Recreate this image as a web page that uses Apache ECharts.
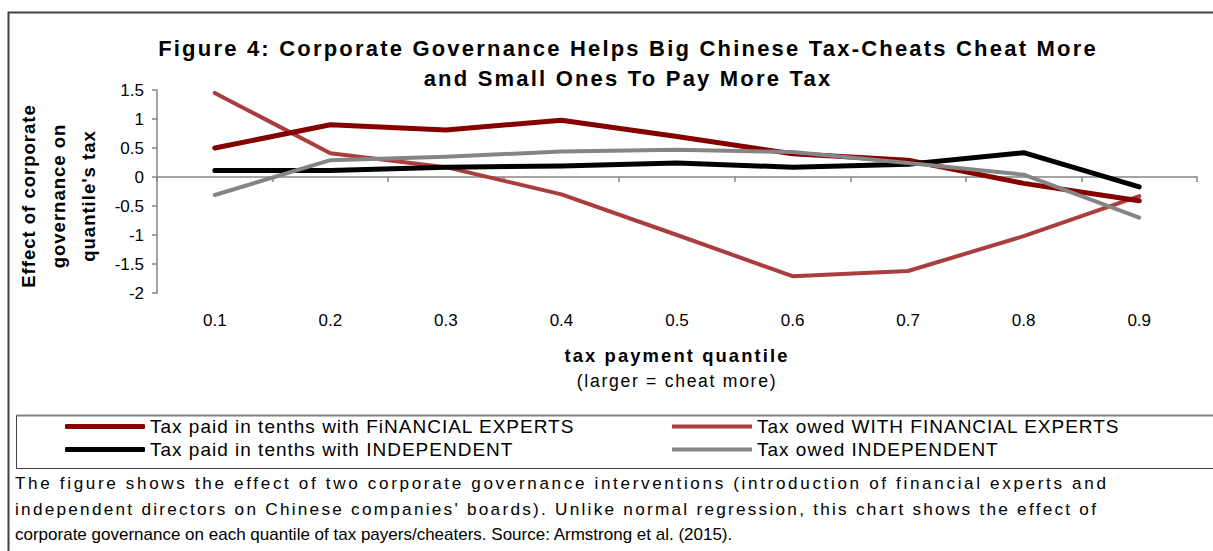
<!DOCTYPE html>
<html>
<head>
<meta charset="utf-8">
<script src="https://cdn.jsdelivr.net/npm/echarts@6/dist/echarts.min.js"></script>
<style>
html,body{margin:0;padding:0;background:#fff;}
#chart{width:1213px;height:551px;}
/* Spread the glyphs like the reference's wide text setting */
#chart text[style*="22px"]{letter-spacing:2.2px;}
#chart text[style*="19px"]{letter-spacing:1.0px;}
#chart text[style*="17.1px"]{letter-spacing:2.65px;}
#chart text[style*="17.2px"]{letter-spacing:2.25px;}
#chart text[style*="18.5px"]{letter-spacing:1.0px;}
#chart text[style*="18.4px"]{letter-spacing:2.1px;}
#chart text[style*="17.6px"]{letter-spacing:1.7px;}
</style>
</head>
<body>
<div id="chart"></div>
<script>
var categories = ['0.1','0.2','0.3','0.4','0.5','0.6','0.7','0.8','0.9'];
var paidFinancial = [0.50, 0.90, 0.81, 0.98, 0.70, 0.40, 0.29, -0.11, -0.41];
var owedFinancial = [1.45, 0.41, 0.17, -0.30, -1.00, -1.71, -1.62, -1.02, -0.33];
var paidIndependent = [0.11, 0.11, 0.17, 0.19, 0.24, 0.17, 0.22, 0.42, -0.17];
var owedIndependent = [-0.31, 0.29, 0.35, 0.44, 0.47, 0.43, 0.24, 0.04, -0.70];
var seriesNames = [
  'Tax paid in tenths with FiNANCIAL EXPERTS',
  'Tax owed WITH FINANCIAL EXPERTS',
  'Tax paid in tenths with INDEPENDENT',
  'Tax owed INDEPENDENT'
];
var titleText = 'Figure 4: Corporate Governance Helps Big Chinese Tax-Cheats Cheat More\nand Small Ones To Pay More Tax';
var yTitle = "Effect of corporate\ngovernance on\nquantile's tax";
var xTitle = 'tax payment quantile';
var xSubtitle = '(larger = cheat more)';
var footnoteLines = [
  'The figure shows the effect of two corporate governance interventions (introduction of financial experts and',
  "independent directors on Chinese companies' boards). Unlike normal regression, this chart shows the effect of",
  'corporate governance on each quantile of tax payers/cheaters. Source: Armstrong et al. (2015).'
];

var FONT = '"Liberation Sans", Arial, sans-serif';
var chart = echarts.init(document.getElementById('chart'), null, {renderer: 'svg'});

var legendText = {fontFamily: FONT, fontSize: 19, color: '#000', lineHeight: 19};
var footSizes = ['17.1px ', '17.2px ', '17px '];

var graphics = [
  {type: 'rect', shape: {x: 8.5, y: 12.5, width: 1300, height: 700}, style: {fill: 'none', stroke: '#404040', lineWidth: 2}, silent: true},
  {type: 'rect', shape: {x: 16.5, y: 415.5, width: 1300, height: 53}, style: {fill: 'none', stroke: '#404040', lineWidth: 1}, silent: true},
  {type: 'line', shape: {x1: 16.5, y1: 415.5, x2: 1213, y2: 415.5}, style: {stroke: '#808080', lineWidth: 2}, silent: true},
  {type: 'text', x: 58, y: 196, rotation: Math.PI / 2,
   style: {text: yTitle, align: 'center', verticalAlign: 'middle', font: 'bold 18.5px ' + FONT, lineHeight: 30, fill: '#000'}},
  {type: 'text', x: 677, y: 355,
   style: {text: xTitle, align: 'center', verticalAlign: 'middle', font: 'bold 18.4px ' + FONT, fill: '#000'}},
  {type: 'text', x: 677, y: 381,
   style: {text: xSubtitle, align: 'center', verticalAlign: 'middle', font: '17.6px ' + FONT, fill: '#000'}}
];
footnoteLines.forEach(function (line, i) {
  graphics.push({type: 'text', x: 15, y: 483 + i * 25.5,
    style: {text: line, align: 'left', verticalAlign: 'middle', font: footSizes[i] + FONT, fill: '#000'}});
});

chart.setOption({
  animation: false,
  backgroundColor: '#fff',
  title: {
    text: titleText,
    left: 623,
    top: 28,
    textAlign: 'center',
    textStyle: {fontFamily: FONT, fontSize: 22, fontWeight: 'bold', color: '#000', lineHeight: 30}
  },
  grid: {left: 157, right: 16, top: 90, bottom: 258, containLabel: false},
  legend: [
    {
      data: [{name: seriesNames[0], icon: 'roundRect'}, {name: seriesNames[2], icon: 'roundRect'}],
      orient: 'vertical', left: 65, top: 417,
      itemWidth: 80, itemHeight: 5, itemGap: 4,
      textStyle: legendText, padding: 0
    },
    {
      data: [{name: seriesNames[1], icon: 'rect'}, {name: seriesNames[3], icon: 'rect'}],
      orient: 'vertical', left: 672, top: 417,
      itemWidth: 80, itemHeight: 4, itemGap: 4,
      textStyle: legendText, padding: 0
    }
  ],
  xAxis: [
    {
      type: 'category', data: categories, position: 'bottom',
      boundaryGap: true,
      axisLine: {show: false, onZero: false},
      axisTick: {show: false},
      axisLabel: {margin: 19, fontFamily: FONT, fontSize: 17, color: '#000'},
      splitLine: {show: false}
    },
    {
      type: 'category', data: categories, position: 'bottom',
      boundaryGap: true,
      axisLine: {show: true, onZero: true, lineStyle: {color: '#868686', width: 1.5}},
      axisTick: {show: true, length: 5, lineStyle: {color: '#868686', width: 1.5}},
      axisLabel: {show: false},
      splitLine: {show: false}
    }
  ],
  yAxis: {
    type: 'value', min: -2, max: 1.5, interval: 0.5,
    axisLine: {show: true, onZero: false, lineStyle: {color: '#868686', width: 1.5}},
    axisTick: {show: true, length: 5, lineStyle: {color: '#868686', width: 1.5}},
    axisLabel: {margin: 13, fontFamily: FONT, fontSize: 17, color: '#000'},
    splitLine: {show: false}
  },
  series: [
    {name: seriesNames[0], type: 'line', data: paidFinancial, showSymbol: false, symbol: 'none', z: 3,
     lineStyle: {color: '#870000', width: 5, cap: 'round', join: 'round'}, itemStyle: {color: '#870000'}},
    {name: seriesNames[1], type: 'line', data: owedFinancial, showSymbol: false, symbol: 'none', z: 2,
     lineStyle: {color: '#aa3d3d', width: 4, cap: 'round', join: 'round'}, itemStyle: {color: '#aa3d3d'}},
    {name: seriesNames[2], type: 'line', data: paidIndependent, showSymbol: false, symbol: 'none', z: 4,
     lineStyle: {color: '#000000', width: 5, cap: 'round', join: 'round'}, itemStyle: {color: '#000000'}},
    {name: seriesNames[3], type: 'line', data: owedIndependent, showSymbol: false, symbol: 'none', z: 5,
     lineStyle: {color: '#858585', width: 4, cap: 'round', join: 'round'}, itemStyle: {color: '#858585'}}
  ],
  graphic: graphics
});
</script>
</body>
</html>
